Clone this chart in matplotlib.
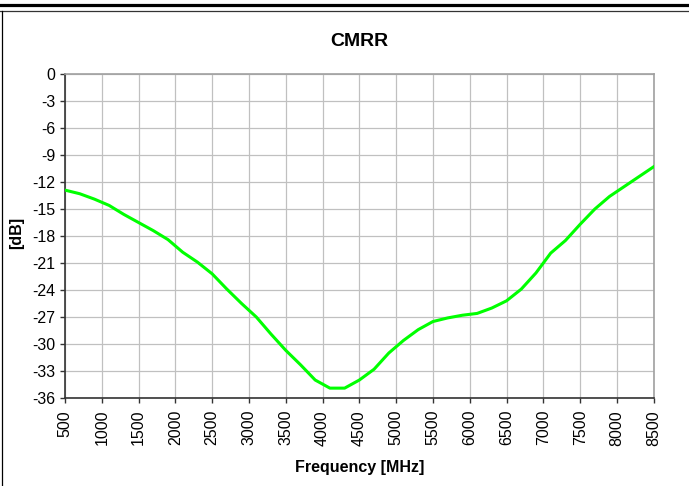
import matplotlib.pyplot as plt
from matplotlib.lines import Line2D

plt.rcParams['font.family'] = ['Liberation Sans', 'DejaVu Sans']

# Frequenz in MHz
freq = [500, 700, 900, 1100, 1300, 1500, 1700, 1900, 2100, 2300,
        2500, 2700, 2900, 3100, 3300, 3500, 3700, 3900, 4100, 4300,
        4500, 4700, 4900, 5100, 5300, 5500, 5700, 5900, 6100, 6300,
        6500, 6700, 6900, 7100, 7300, 7500, 7700, 7900, 8100, 8300, 8500]

# CMRR in dB
cmrr = [-12.9, -13.3, -13.9, -14.6, -15.6, -16.5, -17.4, -18.4, -19.8, -20.9,
        -22.2, -23.9, -25.5, -27.0, -28.9, -30.7, -32.3, -34.0, -34.9, -34.9,
        -34.0, -32.8, -31.0, -29.6, -28.4, -27.5, -27.1, -26.8, -26.6, -26.0,
        -25.2, -23.9, -22.1, -19.9, -18.5, -16.7, -15.0, -13.6, -12.5, -11.4, -10.3]

xticks = list(range(500, 8501, 500))
yticks = list(range(0, -37, -3))

fig = plt.figure(figsize=(6.89, 4.86), dpi=100)
ax = fig.add_axes([0.0943, 0.181, 0.8545, 0.6667])

ax.plot(freq, cmrr, color='#00ff00', lw=2.2, zorder=3)

ax.set_xlim(500, 8500)
ax.set_ylim(-36, 0)
ax.set_xticks(xticks)
ax.set_yticks(yticks)
ax.set_xticklabels([str(t) for t in xticks], rotation=90, fontsize=11.5)
ax.set_yticklabels([str(t) for t in yticks], fontsize=11.5)
ax.tick_params(direction='out', length=3.6, width=1, color='#333333', pad=5)
ax.tick_params(axis='y', pad=3.5)

ax.grid(True, color='#c0c0c0', lw=0.9)
ax.set_axisbelow(True)

for s in ['top', 'right']:
    ax.spines[s].set_color('#a0a0a0')
    ax.spines[s].set_linewidth(1.2)
for s in ['left', 'bottom']:
    ax.spines[s].set_color('#333333')
    ax.spines[s].set_linewidth(1.2)

ax.set_title('CMRR', fontsize=14, fontweight='bold', pad=20)
ax.set_xlabel('Frequency [MHz]', fontsize=11.5, fontweight='bold')
ax.set_ylabel('[dB]', fontsize=11.5, fontweight='bold')
ax.xaxis.set_label_coords(0.5, -0.19)
ax.yaxis.set_label_coords(-0.069, 0.51)

# Rahmen wie im Original
fig.add_artist(Line2D([0, 1], [0.9897, 0.9897], color='black', lw=2.3))
fig.add_artist(Line2D([0, 1], [0.9775, 0.9775], color='#333333', lw=0.9))
fig.add_artist(Line2D([0.0036, 0.0036], [0, 0.9775], color='black', lw=0.9))

fig.savefig('out.png', dpi=100)
